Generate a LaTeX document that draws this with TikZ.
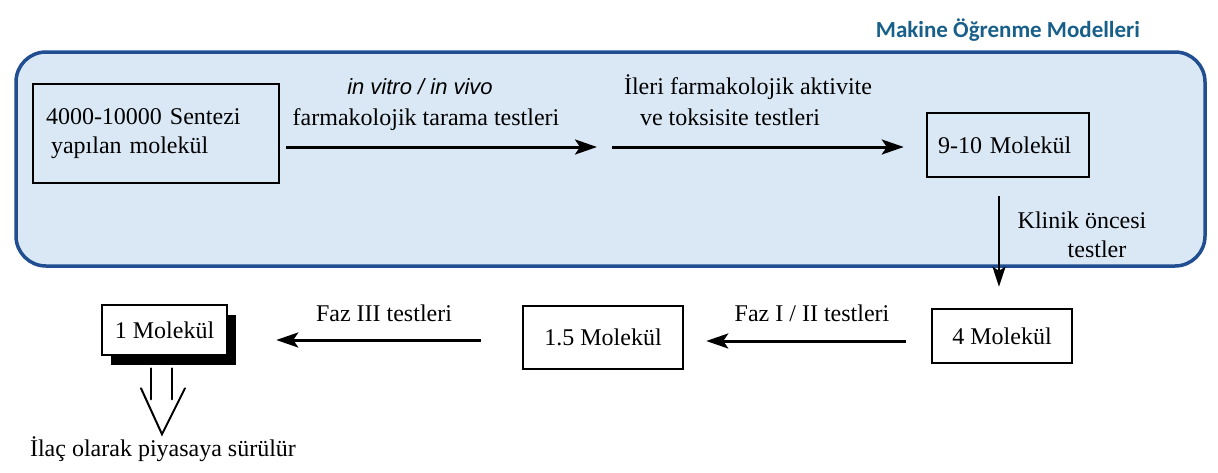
\documentclass[tikz,border=0pt]{standalone}
\usepackage{fontspec}
\setmainfont{Liberation Serif}
\newfontfamily\labsans{Liberation Sans}
\newfontfamily\ttlfont{Carlito}
\usetikzlibrary{arrows.meta,calc,shadows}
\definecolor{panelfill}{RGB}{218,232,245}
\definecolor{panelline}{RGB}{32,78,145}
\definecolor{titleblue}{RGB}{24,96,138}
\begin{document}
\begin{tikzpicture}[x=1pt,y=-1pt,
  panelbox/.style={draw=panelline, line width=3.5pt, fill=panelfill, rounded corners=30pt, inner sep=0pt},
  molbox/.style={draw=black, line width=2.5pt, inner sep=0pt, font=\fontsize{24}{29}\selectfont},
  lab/.style={inner sep=0pt, font=\fontsize{24}{29}\selectfont},
  arr/.style={line width=3pt, -{Stealth[length=22pt,width=15pt,inset=5pt]}},
  varr/.style={line width=2pt, -{Stealth[length=20pt,width=13pt,inset=4pt]}},
  openarr/.style={line width=2pt, line cap=round, line join=miter}
]
\path[use as bounding box] (0,0) rectangle (1218,472);

% title
\node[inner sep=0pt, text=titleblue, font=\ttlfont\bfseries\fontsize{23}{27}\selectfont] (title) at (1008,30) {Makine Öğrenme Modelleri};

% panel
\node[panelbox, minimum width=1189pt, minimum height=214pt] (panel) at (610.5,159) {};

% boxes
\node[molbox, minimum width=246pt, minimum height=99pt, text width=220pt, align=left] (b1) at (156,133.5)
  {4000-10000 Sentezi\\\hspace*{5pt}yapılan molekül};
\node[molbox, minimum width=162pt, minimum height=64pt, text width=140pt, align=left] (b2) at (1008,145) {9-10 Molekül};
\node[molbox, fill=white, minimum width=140pt, minimum height=54pt] (b3) at (1002,336) {4 Molekül};
\node[molbox, fill=white, minimum width=160pt, minimum height=63pt] (b4) at (603,337.5) {1.5 Molekül};
\node[molbox, fill=white, minimum width=125pt, minimum height=50pt,
  drop shadow={shadow xshift=9pt, shadow yshift=-10pt, fill=black, opacity=1}] (b5) at (164.5,330) {1 Molekül};

% mid coordinate between the two top arrows
\coordinate (m) at (604.5,147);

% labels
\node[inner sep=0pt, font=\labsans\itshape\fontsize{22}{26}\selectfont] (l1) at (420,87) {in vitro / in vivo};
\node[lab] (l2) at (426,120) {farmakolojik tarama testleri};
\node[lab] (l3) at (748,87) {İleri farmakolojik aktivite};
\node[lab] (l4) at (730,117) {ve toksisite testleri};
\node[lab, align=center] (l5) at (1082,235) {Klinik öncesi\\\hspace*{30pt}testler};
\node[lab] (l6) at (812,313) {Faz I / II testleri};
\node[lab] (l7) at (384,313) {Faz III testleri};
\node[lab] (l8) at (163,449) {İlaç olarak piyasaya sürülür};

% arrows
\draw[arr] ([xshift=6pt]b1.east |- m) -- ([xshift=-7.5pt]m);
\draw[arr] ([xshift=7.5pt]m) -- ([xshift=-22pt]b2.west |- m);
\draw[varr] ($(b2.south)+(-9,18)$) -- ($(b3.north)+(-3,-21)$);
\draw[arr] ($(b3.west)+(-25,5)$) -- ($(b4.east)+(22,3.5)$);
\draw[arr] ($(b4.west)+(-41,2.5)$) -- ($(b5.east)+(48,10)$);

% open arrow under 1 Molekül
\draw[openarr] ($(b5.south)+(-13.5,12)$) -- ($(b5.south)+(-13.5,43)$);
\draw[openarr] ($(b5.south)+(7.5,12)$) -- ($(b5.south)+(7.5,43)$);
\draw[openarr] ($(b5.south)+(-23.5,32)$) -- ($(b5.south)+(-2.5,78)$) -- ($(b5.south)+(20.5,32)$);
\end{tikzpicture}
\end{document}
